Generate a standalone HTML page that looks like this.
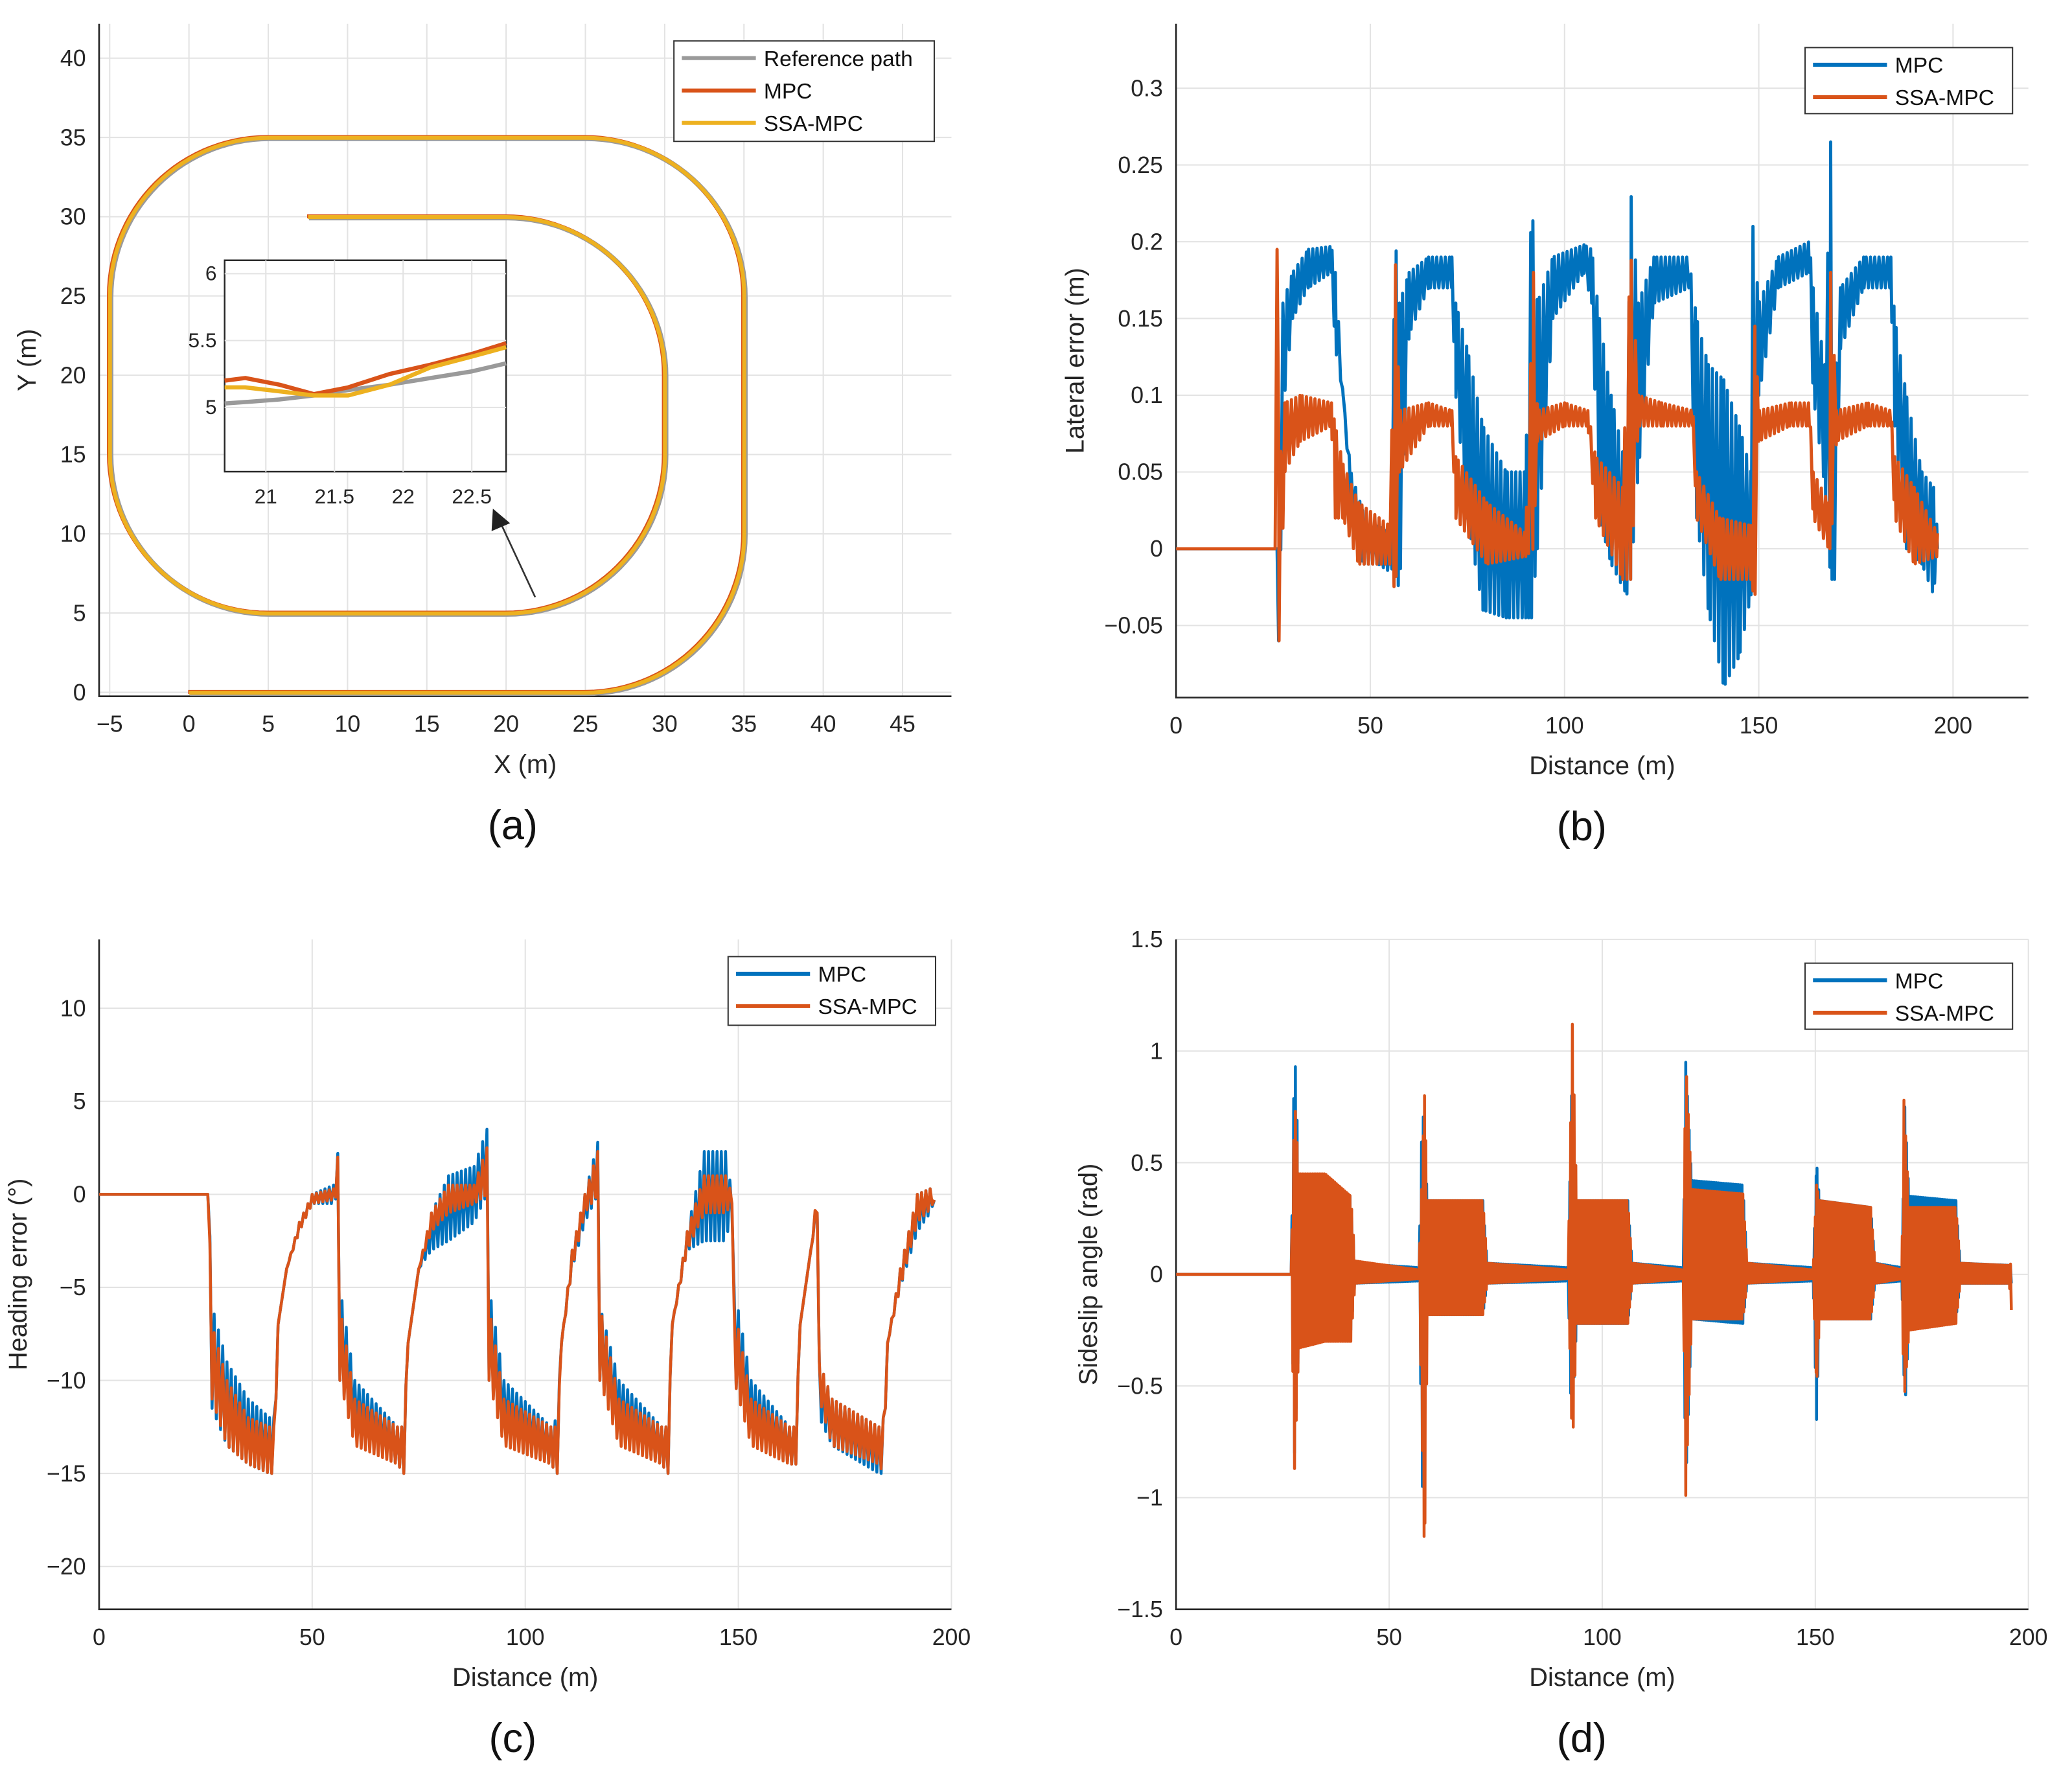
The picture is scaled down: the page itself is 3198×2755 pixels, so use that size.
<!DOCTYPE html>
<html><head><meta charset="utf-8"><style>
html,body{margin:0;padding:0;background:#fff;}
svg{display:block;font-family:"Liberation Sans",sans-serif;}
</style></head><body>
<svg id="fig" width="3198" height="2755" viewBox="0 0 1568 1351" preserveAspectRatio="none" xmlns="http://www.w3.org/2000/svg">
<rect width="1568" height="1351" fill="#fff"/>
</svg>
<script>
// ---------- data ----------
const pathSegs = [
 ['L',0,0,25,0],['A',25,10,10,-90,0],['L',35,10,35,25],['A',25,25,10,0,90],
 ['L',25,35,5,35],['A',5,25,10,90,180],['L',-5,25,-5,15],['A',5,15,10,180,270],
 ['L',5,5,20,5],['A',20,15,10,270,360],['L',30,15,30,20],['A',20,20,10,0,90],['L',20,30,7.5,30]
];
const insetX = [20.7,20.85,21.1,21.35,21.6,21.9,22.2,22.5,22.75];
const insetRef = [5.03,5.04,5.06,5.09,5.13,5.17,5.22,5.27,5.33];
const insetMPC = [5.2,5.22,5.17,5.1,5.15,5.25,5.32,5.4,5.48];
const insetSSA = [5.15,5.15,5.12,5.09,5.09,5.17,5.3,5.38,5.45];
const aTicksX = [-5,0,5,10,15,20,25,30,35,40,45];
const aTicksY = [0,5,10,15,20,25,30,35,40];

const bMPC = [[0,0,0],[26,0,0],[26.5,0,-0.075],[27.5,0.16,0.09],[30,0.18,0.15],[34,0.195,0.17],[40,0.197,0.18],[41,0.18,0.13],[43,0.1,0.1],[45,0.05,0.03],[48,0.025,-0.01],[52,0.015,-0.01],[55,0.01,-0.015],[56.5,0.2,-0.01],[57.5,0.16,-0.03],[60,0.18,0.14],[65,0.19,0.17],[71,0.19,0.17],[72,0.16,0.1],[75,0.13,0.02],[79,0.08,-0.04],[85,0.05,-0.045],[90,0.05,-0.045],[91.5,0.23,-0.045],[93,0.16,0.0],[97,0.19,0.15],[105,0.198,0.18],[107,0.195,0.16],[109,0.15,0.02],[112,0.1,-0.01],[116,0.05,-0.03],[117,0.235,-0.02],[119,0.16,0.05],[123,0.19,0.16],[132,0.19,0.17],[134,0.15,0.02],[137,0.12,-0.04],[141,0.11,-0.09],[145,0.08,-0.07],[148,0.05,-0.03],[148.5,0.21,-0.03],[150,0.16,0.1],[155,0.19,0.17],[163,0.2,0.18],[164,0.17,0.1],[167,0.12,0.04],[168.5,0.265,-0.02],[169.5,0.1,-0.02],[171,0.17,0.13],[177,0.19,0.17],[184,0.19,0.17],[185,0.15,0.08],[188,0.1,0.0],[192,0.05,-0.01],[195,0.04,-0.03],[196,0.01,0.0]];
const bSSA = [[0,0,0],[25.5,0,0],[26,0.195,0.195],[26.5,0.05,-0.06],[28,0.095,0.05],[32,0.1,0.07],[40,0.095,0.08],[41,0.08,0.02],[43,0.055,0.02],[47,0.03,-0.01],[55,0.015,-0.01],[56.5,0.185,-0.03],[57.5,0.09,0.05],[65,0.095,0.08],[71,0.09,0.08],[72,0.06,0.02],[80,0.03,-0.01],[90,0.01,-0.005],[92,0.18,0.0],[93,0.09,0.07],[100,0.095,0.08],[106,0.09,0.08],[108,0.06,0.02],[115,0.04,-0.02],[117,0.195,-0.02],[119,0.1,0.08],[125,0.095,0.08],[133,0.09,0.08],[134,0.05,0.02],[140,0.02,-0.02],[148,0.015,-0.02],[149,0.145,-0.035],[150,0.09,0.07],[158,0.095,0.08],[163,0.095,0.08],[164,0.05,0.02],[168,0.03,0.0],[168.5,0.18,0.0],[170,0.09,0.07],[178,0.095,0.08],[184,0.09,0.08],[185,0.06,0.02],[190,0.04,-0.01],[196,0.01,-0.005]];
const bTicksX = [0,50,100,150,200];
const bTicksY = [-0.05,0,0.05,0.1,0.15,0.2,0.25,0.3];

const cMPC = [[0,0,0],[25,0,0],[25.5,1.5,0],[26.5,-6,-11.5],[30,-9,-13.5],[35,-11,-14.5],[40,-12,-15],[41,-12,-15],[42,-7,-7],[44,-4,-4],[47,-1.5,-2],[50,0,-0.5],[55,0.5,-0.5],[56,2.2,0],[56.5,-5,-10],[60,-10,-13],[70,-12.5,-14.5],[71.5,-12.5,-15],[72.5,-8,-8],[75,-4,-4],[78,-1,-3],[82,1,-2.5],[88,1.5,-1.5],[91,3.5,0],[91.5,-5,-10],[95,-10,-13],[106,-12.5,-14.5],[107.5,-12,-15],[108.5,-8,-8],[111,-3,-4],[114,0,-1.5],[117,2.8,0],[117.5,-6,-10],[122,-10,-13],[132,-12.5,-14.5],[133.5,-12.5,-15],[134.5,-7,-7],[138,-2,-3],[142,2.3,-2.5],[147,2.3,-2.5],[148.5,0,-1],[149,-5,-10],[153,-10,-13],[162,-12.5,-14.5],[163.5,-12.5,-14.5],[164.5,-7,-7],[167,-3,-3],[168.5,0,-1],[169,-9,-12],[172,-11,-13.5],[183,-12.5,-15],[184,-12,-15],[185,-8,-8],[188,-4,-5],[192,0,-2],[195,0.3,-1],[196,-0.3,-0.3]];
const cSSA = [[0,0,0],[25,0,0],[25.5,1.7,0],[26.5,-7,-11],[30,-10,-13.5],[35,-12,-14.5],[40,-12.5,-15],[41,-12.5,-15],[42,-7,-7],[44,-4,-4],[47,-1.5,-2],[50,0,-0.5],[55,0.3,-0.3],[56,2,0],[56.5,-6,-10],[60,-11,-13.5],[70,-12.5,-14.5],[71.5,-12.5,-15],[72.5,-8,-8],[75,-4,-4],[78,-1,-2],[82,0.5,-1],[88,0.5,-0.5],[91,2.5,0],[91.5,-6,-10],[95,-11,-13.5],[106,-12.5,-14.5],[107.5,-12.5,-15],[108.5,-8,-8],[111,-3,-4],[114,0,-1],[117,2.3,0],[117.5,-6,-10],[122,-11,-13.5],[132,-12.5,-14.5],[133.5,-12.5,-15],[134.5,-7,-7],[138,-2,-3],[142,1,-1],[147,1,-1],[148.5,0,-0.5],[149,-6,-10],[153,-11,-13.5],[162,-12.5,-14.5],[163.5,-12.5,-14.5],[164.5,-7,-7],[167,-3,-3],[168.5,0.2,-1],[169,-9,-11],[172,-11,-13.5],[183,-12.5,-14.5],[184,-12,-15],[185,-8,-8],[188,-4,-5],[192,0,-1.5],[195,0.3,-0.8],[196,-0.3,-0.3]];
const cTicksX = [0,50,100,150,200];
const cTicksY = [-20,-15,-10,-5,0,5,10];

const dMPC = [[0,0,0],[27,0,0],[27.8,1.05,-0.8],[28.8,0.45,-0.3],[35,0.4,-0.28],[41,0.35,-0.25],[42,0.05,-0.04],[57,0.03,-0.03],[57.8,0.78,-0.95],[59,0.33,-0.18],[72,0.33,-0.18],[73,0.05,-0.04],[92,0.03,-0.03],[92.8,0.8,-0.7],[94,0.33,-0.22],[106,0.33,-0.22],[107,0.05,-0.04],[119,0.03,-0.03],[119.6,0.95,-0.95],[121,0.42,-0.2],[133,0.4,-0.22],[134,0.05,-0.04],[149.5,0.03,-0.03],[150.3,0.5,-0.65],[151,0.33,-0.2],[163,0.3,-0.2],[164,0.05,-0.04],[170.3,0.03,-0.03],[171,0.75,-0.62],[172,0.35,-0.22],[183,0.33,-0.2],[184,0.05,-0.04],[196,0.04,-0.04]];
const dSSA = [[0,0,0],[27,0,0],[27.8,0.8,-0.87],[28.8,0.45,-0.33],[35,0.45,-0.3],[41,0.35,-0.3],[42,0.06,-0.04],[57,0.02,-0.02],[58.3,0.8,-1.27],[59,0.33,-0.18],[72,0.33,-0.18],[73,0.05,-0.04],[92,0.02,-0.02],[93,1.12,-0.8],[94,0.33,-0.22],[106,0.33,-0.22],[107,0.05,-0.04],[119,0.02,-0.02],[119.6,0.97,-0.99],[121,0.38,-0.2],[133,0.36,-0.2],[134,0.05,-0.04],[149.5,0.02,-0.02],[150.3,0.4,-0.5],[151,0.33,-0.2],[163,0.3,-0.2],[164,0.05,-0.04],[170.3,0.02,-0.02],[170.8,0.78,-0.58],[172,0.3,-0.25],[183,0.3,-0.22],[184,0.05,-0.04],[195.5,0.04,-0.04],[196,0.05,-0.16]];
const dTicksX = [0,50,100,150,200];
const dTicksY = [-1.5,-1,-0.5,0,0.5,1,1.5];

// ---------- rendering ----------
const NS='http://www.w3.org/2000/svg';
const svg=document.getElementById('fig');
function el(tag,attrs,parent,txt){const e=document.createElementNS(NS,tag);for(const k in attrs)e.setAttribute(k,attrs[k]);if(txt!==undefined)e.textContent=txt;(parent||svg).appendChild(e);return e;}
function fmt(v){const s=String(+v.toFixed(3));return v<0?'\u2212'+s.slice(1):s;}
const BLUE='#0072BD',RED='#D95319',YEL='#EDB120',GRAY='#9a9a9a',INK='#262626';

function axes(name,box,xd,yd,xt,yt,xlabel,ylabel,ylabX,letter,letterX){
  const g=el('g',{},svg);
  
  
  const sx=v=>box.x0+(v-xd[0])/(xd[1]-xd[0])*(box.x1-box.x0);
  const sy=v=>box.y1-(v-yd[0])/(yd[1]-yd[0])*(box.y1-box.y0);
  xt.forEach(t=>{const l=el('line',{x1:sx(t),x2:sx(t),y1:box.y0,y2:box.y1,stroke:'#e3e3e3','stroke-width':1},g);
    
    const tx=el('text',{x:sx(t),y:box.y1+27,'font-size':17.5,'text-anchor':'middle',fill:INK},g,fmt(t));
    });
  yt.forEach(t=>{const l=el('line',{x1:box.x0,x2:box.x1,y1:sy(t),y2:sy(t),stroke:'#e3e3e3','stroke-width':1},g);
    
    const tx=el('text',{x:box.x0-10,y:sy(t)+6,'font-size':17.5,'text-anchor':'end',fill:INK},g,fmt(t));
    });
  const ax=el('path',{d:`M${box.x0},${box.y0}V${box.y1}H${box.x1}`,fill:'none',stroke:INK,'stroke-width':1.3},g);
  
  const xl=el('text',{x:(box.x0+box.x1)/2,y:box.y1+58,'font-size':19.5,'text-anchor':'middle',fill:INK},g,xlabel);
  
  const cy=(box.y0+box.y1)/2;
  const yl=el('text',{x:ylabX,y:cy,'font-size':19.5,'text-anchor':'middle',fill:INK,transform:`rotate(-90 ${ylabX} ${cy})`},g,ylabel);
  
  const lt=el('text',{x:letterX,y:box.y1+108,'font-size':31,'text-anchor':'middle',fill:'#111'},g,letter);
  
  return {g,sx,sy,box};
}
function legend(ax,x,y,w,h,items){
  const g=el('g',{},ax.g);
  
  
  el('rect',{x,y,width:w,height:h,fill:'#fff',stroke:'#333','stroke-width':1},g);
  items.forEach((it,i)=>{const yy=y+13+i*24.5;
    const e=el('g',{},g);
    
    
    el('line',{x1:x+6,x2:x+62,y1:yy,y2:yy,stroke:it[1],'stroke-width':3},e);
    el('text',{x:x+68,y:yy+6,'font-size':16.5,fill:'#111'},e,it[0]);});
}
function envPts(arr,ax,step){
  const pts=[];let k=0;
  const x0=arr[0][0],x1=arr[arr.length-1][0];
  const xs=new Set();arr.forEach(p=>xs.add(p[0]));
  for(let d=x0;d<=x1;d+=step)xs.add(+d.toFixed(4));
  const sorted=[...xs].sort((a,b)=>a-b);
  sorted.forEach(d=>{
    let i=0;while(i<arr.length-2&&arr[i+1][0]<d)i++;
    const a=arr[i],b=arr[i+1];const t=b[0]===a[0]?0:Math.min(1,Math.max(0,(d-a[0])/(b[0]-a[0])));
    const hi=a[1]+(b[1]-a[1])*t,lo=a[2]+(b[2]-a[2])*t;
    const p=arr.find(p=>p[0]===d);
    const v=p?((k%2===0)?p[1]:p[2]):((k%2===0)?hi:lo);
    k++;
    pts.push(ax.sx(d).toFixed(2)+','+ax.sy(v).toFixed(2));
  });
  return pts.join(' ');
}
function series(ax,arr,color,step,name,w){
  const p=el('polyline',{points:envPts(arr,ax,step),fill:'none',stroke:color,'stroke-width':w||2.2,'stroke-linejoin':'round'},ax.g);
  
  
}

// ---- panel (a)
const A=axes('trajectory-plot',{x0:75,x1:720,y0:18,y1:527},[-5.667,48.083],[-0.25,42.167],aTicksX,aTicksY,'X (m)','Y (m)',27,'(a)',388);
function segPts(){
  const pts=[];
  pathSegs.forEach(s=>{
    if(s[0]==='L'){for(let i=0;i<=20;i++){const t=i/20;pts.push([s[1]+(s[3]-s[1])*t,s[2]+(s[4]-s[2])*t]);}}
    else{for(let i=0;i<=30;i++){const a=(s[4]+(s[5]-s[4])*i/30)*Math.PI/180;pts.push([s[1]+s[3]*Math.cos(a),s[2]+s[3]*Math.sin(a)]);}}
  });
  return pts.map(p=>A.sx(p[0]).toFixed(2)+','+A.sy(p[1]).toFixed(2)).join(' ');
}
[['reference-path',GRAY,4,'translate(0.8,0.8)'],['mpc-path',RED,3,'translate(-0.6,-0.3)'],['ssa-mpc-path',YEL,3,'translate(0.2,0.3)']].forEach(s=>{
  const p=el('polyline',{points:segPts(),fill:'none',stroke:s[1],'stroke-width':s[2],transform:s[3],'stroke-linejoin':'round'},A.g);
  
  
});
legend(A,510,31,197,76,[['Reference path',GRAY],['MPC',RED],['SSA-MPC',YEL]]);
const ib={x0:170,x1:383,y0:197,y1:357};
const ig=el('g',{},A.g);


el('rect',{x:ib.x0,y:ib.y0,width:ib.x1-ib.x0,height:ib.y1-ib.y0,fill:'#fff',stroke:INK,'stroke-width':1.2},ig);
const isx=v=>ib.x0+(v-20.7)/(22.75-20.7)*(ib.x1-ib.x0);
const isy=v=>ib.y1-(v-4.52)/(6.1-4.52)*(ib.y1-ib.y0);
[21,21.5,22,22.5].forEach(t=>{el('line',{x1:isx(t),x2:isx(t),y1:ib.y0,y2:ib.y1,stroke:'#e3e3e3'},ig);
  el('text',{x:isx(t),y:ib.y1+24,'font-size':15.5,'text-anchor':'middle',fill:INK},ig,String(t));});
[5,5.5,6].forEach(t=>{el('line',{x1:ib.x0,x2:ib.x1,y1:isy(t),y2:isy(t),stroke:'#e3e3e3'},ig);
  el('text',{x:ib.x0-6,y:isy(t)+5,'font-size':15.5,'text-anchor':'end',fill:INK},ig,String(t));});
[[insetRef,GRAY,'inset-reference'],[insetMPC,RED,'inset-mpc'],[insetSSA,YEL,'inset-ssa-mpc']].forEach(s=>{
  const p=el('polyline',{points:insetX.map((x,i)=>isx(x).toFixed(1)+','+isy(s[0][i]).toFixed(1)).join(' '),fill:'none',stroke:s[1],'stroke-width':3.2,'stroke-linejoin':'round'},ig);
  
  
});
const arr=el('line',{x1:405,y1:452,x2:378,y2:394,stroke:'#333','stroke-width':1.3},A.g);

el('polygon',{points:'373,385 372,402 386,396',fill:'#222'},A.g);

// ---- panel (b)
const B=axes('lateral-error-plot',{x0:890,x1:1535,y0:18,y1:528},[0,219.4],[-0.097,0.342],bTicksX,bTicksY,'Distance (m)','Lateral error (m)',820,'(b)',1197);
series(B,bMPC,BLUE,0.55,'mpc-lateral-line',2.4);
series(B,bSSA,RED,0.55,'ssa-mpc-lateral-line',2.4);
legend(B,1366,36,157,50,[['MPC',BLUE],['SSA-MPC',RED]]);

// ---- panel (c)
const C=axes('heading-error-plot',{x0:75,x1:720,y0:711,y1:1218},[0,200],[-22.3,13.7],cTicksX,cTicksY,'Distance (m)','Heading error (°)',20,'(c)',388);
series(C,cMPC,BLUE,0.5,'mpc-heading-line');
series(C,cSSA,RED,0.5,'ssa-mpc-heading-line');
legend(C,551,724,157,52,[['MPC',BLUE],['SSA-MPC',RED]]);

// ---- panel (d)
const D=axes('sideslip-plot',{x0:890,x1:1535,y0:711,y1:1218},[0,200],[-1.5,1.5],dTicksX,dTicksY,'Distance (m)','Sideslip angle (rad)',830,'(d)',1197);
series(D,dMPC,BLUE,0.2,'mpc-sideslip-line');
series(D,dSSA,RED,0.2,'ssa-mpc-sideslip-line');
legend(D,1366,729,157,50,[['MPC',BLUE],['SSA-MPC',RED]]);
</script>
</body></html>
